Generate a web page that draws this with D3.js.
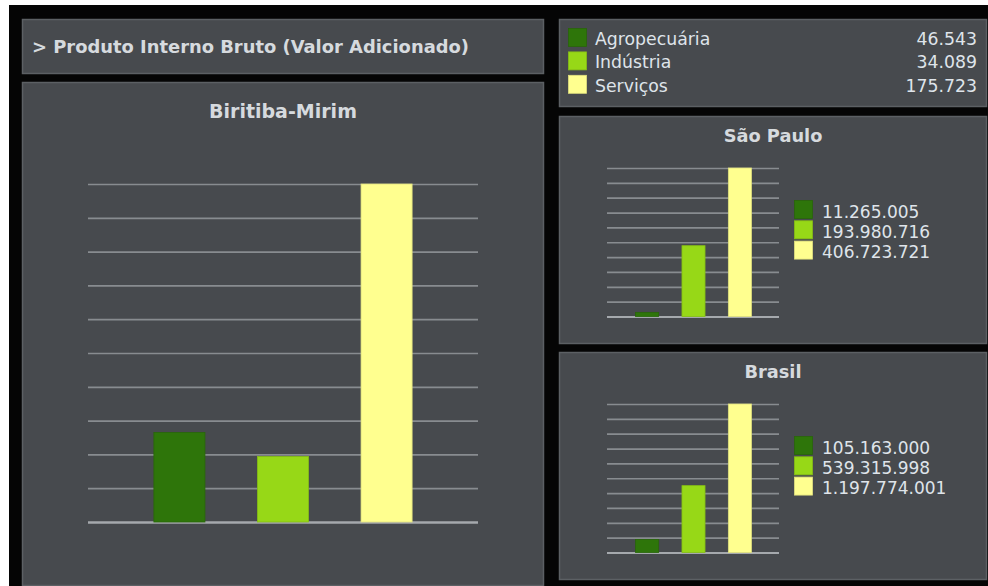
<!DOCTYPE html>
<html>
<head>
<meta charset="utf-8">
<script src="https://cdn.jsdelivr.net/npm/d3@7"></script>
<style>
  html, body { margin: 0; padding: 0; background: #ffffff; }
  svg { display: block; }
  text { font-family: "DejaVu Sans", Verdana, sans-serif; }
</style>
</head>
<body>
<svg id="chart" width="988" height="586"></svg>
<script>
// Sectors of value added and their colours
const categories = ["Agropecuária", "Indústria", "Serviços"];
const sectorColors = ["#2e750a", "#97d817", "#ffff8f"];

// Value added by sector (R$ 1.000)
const biritibaValues = [46543, 34089, 175723];
const saoPauloValues = [11265005, 193980716, 406723721];
const brasilValues = [105163000, 539315998, 1197774001];

const pageTitle = "> Produto Interno Bruto (Valor Adicionado)";
const regionNames = ["Biritiba-Mirim", "São Paulo", "Brasil"];

const ptBR = d3.formatLocale({ decimal: ",", thousands: ".", grouping: [3], currency: ["R$", ""] });
const fmt = ptBR.format(",d");

const svg = d3.select("#chart");
const PANEL_FILL = "#474a4e", PANEL_STROKE = "#5c6064";
const TEXT = "#dfe4ea", TITLE = "#d6dade", GRID = "#888c90", BASE = "#a5a9ad";

// dark backdrop
svg.append("rect").attr("x", 9).attr("y", 5).attr("width", 979).attr("height", 581).attr("fill", "#050505");

function panel(x, y, w, h) {
  svg.append("rect")
    .attr("x", x + 0.5).attr("y", y + 0.5).attr("width", w - 1).attr("height", h - 1)
    .attr("fill", PANEL_FILL).attr("stroke", PANEL_STROKE).attr("stroke-width", 1.5);
}

// Title panel
panel(22, 19, 522, 55);
svg.append("text").attr("x", 32).attr("y", 53)
  .attr("font-size", 17.9).attr("font-weight", "bold").attr("fill", TITLE)
  .text(pageTitle);

// Bar chart with evenly spaced gridlines (10 intervals up to the largest value)
function barChart(g, values, x0, x1, yTop, yBottom, bandRange, padInner, padOuter, baseWidth) {
  const max = d3.max(values);
  const y = d3.scaleLinear().domain([0, max]).range([yBottom, yTop]);
  const x = d3.scaleBand().domain(categories).range(bandRange)
    .paddingInner(padInner).paddingOuter(padOuter);
  const tickVals = d3.range(11).map(i => max * i / 10);

  const axis = d3.axisLeft(y).tickValues(tickVals).tickSize(-(x1 - x0)).tickFormat("");
  const ga = g.append("g").attr("transform", `translate(${x1},0)`).call(axis);
  ga.select(".domain").remove();
  ga.selectAll(".tick line")
    .attr("transform", `translate(${-(x1 - x0)},0)`)
    .attr("x1", 0).attr("x2", x1 - x0)
    .attr("stroke", (d, i) => i === 0 ? BASE : GRID)
    .attr("stroke-width", (d, i) => i === 0 ? baseWidth : 1.7);

  g.selectAll("rect.bar").data(values).join("rect")
    .attr("class", "bar")
    .attr("x", (d, i) => x(categories[i]))
    .attr("width", x.bandwidth())
    .attr("y", d => y(d))
    .attr("height", d => y(0) - y(d))
    .attr("fill", (d, i) => sectorColors[i])
    .attr("stroke", (d, i) => d3.color(sectorColors[i]).darker(0.35))
    .attr("stroke-width", 0.8);
}

// Main panel: Biritiba-Mirim
panel(22, 82, 522, 504);
svg.append("text").attr("x", 283).attr("y", 118).attr("text-anchor", "middle")
  .attr("font-size", 19).attr("font-weight", "bold").attr("fill", TITLE)
  .text(regionNames[0]);
barChart(svg.append("g"), biritibaValues, 88, 478, 184, 522, [128, 438], 0.507, 0.25, 2.4);

// Legend panel
panel(559, 19, 428, 88);
const lg = svg.append("g");
categories.forEach((c, i) => {
  const yy = 28 + i * 23.4;
  lg.append("rect").attr("x", 568.5).attr("y", yy + 0.5).attr("width", 18).attr("height", 18)
    .attr("fill", sectorColors[i]).attr("stroke", d3.color(sectorColors[i]).darker(0.35)).attr("stroke-width", 0.8);
  lg.append("text").attr("x", 595).attr("y", yy + 17).attr("font-size", 17.3).attr("fill", TEXT).text(c);
  lg.append("text").attr("x", 977).attr("y", yy + 17).attr("text-anchor", "end")
    .attr("font-size", 17.3).attr("fill", TEXT).text(fmt(biritibaValues[i]));
});

// Small panels: São Paulo and Brasil
function smallPanel(top, name, values) {
  panel(559, top, 428, 228);
  const g = svg.append("g");
  g.append("text").attr("x", 773).attr("y", top + 26).attr("text-anchor", "middle")
    .attr("font-size", 17.8).attr("font-weight", "bold").attr("fill", TITLE).text(name);
  barChart(g, values, 607, 779, top + 52, top + 200.5, [624, 763], 0.503, 0.25, 2.2);
  values.forEach((v, i) => {
    const yy = top + 84.5 + i * 20.3;
    g.append("rect").attr("x", 794.5).attr("y", yy).attr("width", 18).attr("height", 18)
      .attr("fill", sectorColors[i]).attr("stroke", d3.color(sectorColors[i]).darker(0.35)).attr("stroke-width", 0.8);
    g.append("text").attr("x", 822).attr("y", yy + 17).attr("font-size", 17).attr("fill", TEXT).text(fmt(v));
  });
}
smallPanel(116, regionNames[1], saoPauloValues);
smallPanel(352, regionNames[2], brasilValues);
</script>
</body>
</html>
